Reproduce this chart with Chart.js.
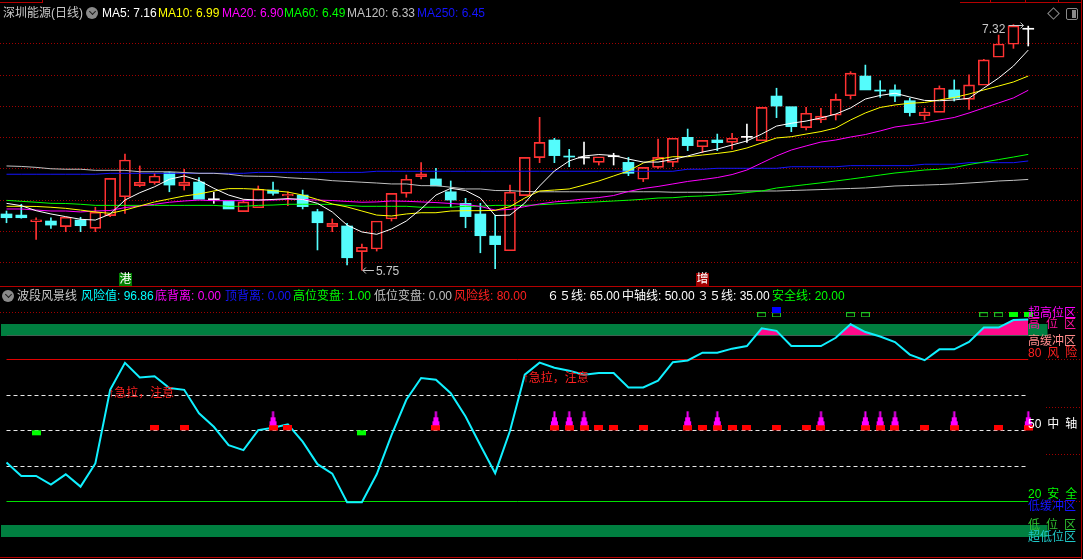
<!DOCTYPE html>
<html lang="zh">
<head>
<meta charset="utf-8">
<title>深圳能源(日线)</title>
<script src="https://cdn.jsdelivr.net/npm/chart.js@4/dist/chart.umd.min.js"></script>
<style>
  html, body { margin: 0; padding: 0; background: #000; }
  body { position: relative; width: 1083px; height: 559px; overflow: hidden; font: 12px "Liberation Sans", "Noto Sans CJK SC", sans-serif; }
  .pane { position: absolute; left: 0; width: 1083px; }
  #topPane { top: 0; height: 286px; }
  #botPane { top: 300px; height: 259px; }
  .t { position: absolute; white-space: nowrap; line-height: 14px; }
  .rule { position: absolute; background: #b40000; }
  .knob { position: absolute; width: 12px; height: 12px; border-radius: 50%; background: #8a8a8a; }
  .knob::after { content: ""; position: absolute; left: 3.5px; top: 2px; width: 4px; height: 4px; border-right: 1.5px solid #1c1c1c; border-bottom: 1.5px solid #1c1c1c; transform: rotate(45deg); }
  .diamond { position: absolute; left: 1049px; top: 9px; width: 7px; height: 7px; border: 1px solid #8a8a8a; transform: rotate(45deg); }
  .panel-ico { position: absolute; left: 1066px; top: 8px; width: 10px; height: 10px; border: 1px solid #8a8a8a; border-radius: 2px; }
  .panel-ico::after { content: ""; position: absolute; right: 1px; top: 1px; width: 4px; height: 8px; background: #8a8a8a; }
</style>
</head>
<body>
<div class="pane" id="topPane"><canvas id="kChart"></canvas></div>
<div class="pane" id="botPane"><canvas id="riskChart"></canvas></div>

<div class="rule" style="left:0;top:2px;width:42px;height:1px"></div>
<div class="rule" style="left:42px;top:0;width:1px;height:3px"></div>
<div class="rule" style="left:960px;top:2px;width:122px;height:1px"></div>
<div class="rule" style="left:990px;top:0;width:1px;height:3px"></div>
<div class="rule" style="left:1025px;top:0;width:1px;height:3px"></div>
<div class="rule" style="left:1058px;top:0;width:1px;height:3px"></div>
<div class="rule" style="left:0;top:286px;width:1082px;height:1px"></div>
<div class="rule" style="left:1081px;top:0;width:1px;height:559px"></div>
<div class="rule" style="left:0;top:557px;width:1082px;height:1px"></div>
<div class="diamond"></div>
<div class="panel-ico"></div>

<span class="t" style="left:3px;top:6px;color:#c8c8c8">深圳能源(日线)</span>
<div class="knob" style="left:86px;top:7px"></div>
<span class="t" style="left:102px;top:6px;color:#ffffff">MA5: 7.16</span>
<span class="t" style="left:158px;top:6px;color:#ffff00">MA10: 6.99</span>
<span class="t" style="left:222px;top:6px;color:#ff00ff">MA20: 6.90</span>
<span class="t" style="left:284px;top:6px;color:#00ff00">MA60: 6.49</span>
<span class="t" style="left:347px;top:6px;color:#c0c0c0">MA120: 6.33</span>
<span class="t" style="left:417px;top:6px;color:#1414ff">MA250: 6.45</span>

<div class="knob" style="left:2px;top:290px"></div>
<span class="t" style="left:17px;top:289px;color:#c8c8c8">波段风景线</span>
<span class="t" style="left:81px;top:289px;color:#00ffff">风险值: 96.86</span>
<span class="t" style="left:155px;top:289px;color:#ff00ff">底背离: 0.00</span>
<span class="t" style="left:225px;top:289px;color:#1414ff">顶背离: 0.00</span>
<span class="t" style="left:293px;top:289px;color:#00ff00">高位变盘: 1.00</span>
<span class="t" style="left:374px;top:289px;color:#c0c0c0">低位变盘: 0.00</span>
<span class="t" style="left:454px;top:289px;color:#ff2020">风险线: 80.00</span>
<span class="t" style="left:547px;top:289px;color:#ffffff">６５线: 65.00</span>
<span class="t" style="left:622px;top:289px;color:#ffffff">中轴线: 50.00</span>
<span class="t" style="left:697px;top:289px;color:#ffffff">３５线: 35.00</span>
<span class="t" style="left:772px;top:289px;color:#00ff00">安全线: 20.00</span>

<span class="t" style="left:1028px;top:306px;color:#ff00ff">超高位区</span>
<span class="t" style="left:1028px;top:317px;color:#ff10a0">高&ensp;位&ensp;区</span>
<span class="t" style="left:1028px;top:334px;color:#ff8c8c">高缓冲区</span>
<span class="t" style="left:1028px;top:346px;color:#ff2020">80&ensp;风&ensp;险</span>
<span class="t" style="left:1028px;top:417px;color:#ffffff">50&ensp;中&ensp;轴</span>
<span class="t" style="left:1028px;top:487px;color:#00ff00">20&ensp;安&ensp;全</span>
<span class="t" style="left:1028px;top:499px;color:#1414ff">低缓冲区</span>
<span class="t" style="left:1028px;top:518px;color:#30c030">低&ensp;位&ensp;区</span>
<span class="t" style="left:1028px;top:530px;color:#20c8c8">超低位区</span>

<script>
// daily candles, index 0..69
const OPEN = [6.109, 6.102, 6.060, 6.064, 6.028, 6.070, 6.017, 6.098, 6.219, 6.290,
  6.309, 6.373, 6.290, 6.313, 6.200, 6.192, 6.124, 6.149, 6.262, 6.224,
  6.230, 6.124, 6.028, 6.032, 5.868, 5.885, 6.077, 6.241, 6.347, 6.333,
  6.251, 6.177, 6.109, 5.968, 5.874, 6.226, 6.469, 6.582, 6.477, 6.467,
  6.439, 6.475, 6.439, 6.331, 6.407, 6.439, 6.599, 6.539, 6.582, 6.567,
  6.599, 6.577, 6.863, 6.795, 6.661, 6.710, 6.740, 6.865, 6.991, 6.899,
  6.902, 6.833, 6.737, 6.759, 6.902, 6.842, 6.932, 7.111, 7.194, 7.290];
const HIGH = [6.128, 6.171, 6.085, 6.085, 6.088, 6.088, 6.152, 6.337, 6.492, 6.416,
  6.369, 6.379, 6.395, 6.341, 6.248, 6.192, 6.200, 6.288, 6.313, 6.251,
  6.262, 6.139, 6.077, 6.049, 5.917, 6.064, 6.241, 6.358, 6.437, 6.401,
  6.320, 6.209, 6.177, 6.102, 6.294, 6.471, 6.727, 6.593, 6.522, 6.569,
  6.475, 6.497, 6.471, 6.407, 6.588, 6.593, 6.652, 6.580, 6.620, 6.625,
  6.684, 6.791, 6.913, 6.795, 6.791, 6.785, 6.876, 7.019, 7.061, 6.961,
  6.934, 6.849, 6.785, 6.928, 6.966, 6.998, 7.098, 7.253, 7.320, 7.310];
const LOW = [6.053, 6.082, 5.947, 6.017, 5.996, 5.996, 5.996, 6.092, 6.113, 6.283,
  6.299, 6.251, 6.262, 6.203, 6.177, 6.141, 6.124, 6.149, 6.230, 6.162,
  6.141, 5.879, 5.996, 5.783, 5.750, 5.872, 6.064, 6.216, 6.333, 6.288,
  6.156, 6.021, 5.861, 5.760, 5.874, 6.226, 6.437, 6.437, 6.411, 6.427,
  6.422, 6.422, 6.354, 6.316, 6.401, 6.411, 6.514, 6.501, 6.514, 6.524,
  6.567, 6.577, 6.725, 6.635, 6.646, 6.693, 6.710, 6.844, 6.902, 6.855,
  6.827, 6.735, 6.710, 6.759, 6.831, 6.778, 6.932, 7.111, 7.168, 7.183];
const CLOSE = [6.085, 6.085, 6.072, 6.038, 6.088, 6.034, 6.120, 6.337, 6.454, 6.312,
  6.352, 6.294, 6.313, 6.203, 6.200, 6.141, 6.186, 6.267, 6.241, 6.235,
  6.156, 6.053, 6.049, 5.829, 5.896, 6.064, 6.241, 6.331, 6.365, 6.288,
  6.198, 6.092, 5.970, 5.913, 6.248, 6.471, 6.567, 6.482, 6.473, 6.467,
  6.475, 6.475, 6.369, 6.407, 6.471, 6.593, 6.546, 6.580, 6.565, 6.593,
  6.599, 6.791, 6.799, 6.667, 6.753, 6.735, 6.842, 7.010, 6.902, 6.895,
  6.863, 6.757, 6.761, 6.913, 6.849, 6.934, 7.094, 7.196, 7.311, 7.290];

const MA5 = [6.177, 6.162, 6.130, 6.109, 6.092, 6.075, 6.070, 6.109, 6.198, 6.245,
  6.283, 6.331, 6.352, 6.323, 6.273, 6.230, 6.203, 6.198, 6.202, 6.207,
  6.202, 6.177, 6.122, 6.038, 5.994, 5.979, 6.013, 6.064, 6.141, 6.230,
  6.273, 6.259, 6.211, 6.099, 6.102, 6.179, 6.288, 6.384, 6.448, 6.480,
  6.489, 6.483, 6.460, 6.441, 6.441, 6.457, 6.480, 6.505, 6.524, 6.550,
  6.576, 6.620, 6.671, 6.689, 6.703, 6.723, 6.748, 6.787, 6.844, 6.867,
  6.881, 6.857, 6.835, 6.833, 6.838, 6.849, 6.914, 6.978, 7.055, 7.157];
const MA10 = [6.158, 6.158, 6.157, 6.152, 6.145, 6.134, 6.122, 6.113, 6.134, 6.160,
  6.186, 6.205, 6.224, 6.237, 6.256, 6.271, 6.271, 6.267, 6.258, 6.249,
  6.230, 6.202, 6.173, 6.154, 6.128, 6.102, 6.096, 6.109, 6.117, 6.117,
  6.128, 6.130, 6.130, 6.132, 6.156, 6.211, 6.256, 6.262, 6.269, 6.294,
  6.320, 6.352, 6.384, 6.435, 6.459, 6.475, 6.475, 6.486, 6.496, 6.508,
  6.531, 6.563, 6.595, 6.603, 6.620, 6.636, 6.659, 6.710, 6.755, 6.790,
  6.806, 6.817, 6.822, 6.838, 6.854, 6.876, 6.902, 6.927, 6.953, 6.991];
const MA20 = [6.141, 6.141, 6.134, 6.128, 6.128, 6.122, 6.128, 6.131, 6.150, 6.160,
  6.171, 6.184, 6.192, 6.198, 6.194, 6.194, 6.194, 6.198, 6.198, 6.203,
  6.202, 6.198, 6.195, 6.189, 6.184, 6.186, 6.192, 6.190, 6.186, 6.182,
  6.176, 6.170, 6.157, 6.134, 6.138, 6.156, 6.173, 6.186, 6.195, 6.205,
  6.214, 6.227, 6.253, 6.272, 6.285, 6.301, 6.317, 6.329, 6.342, 6.361,
  6.390, 6.435, 6.480, 6.518, 6.544, 6.569, 6.582, 6.601, 6.617, 6.640,
  6.665, 6.678, 6.691, 6.710, 6.726, 6.755, 6.787, 6.819, 6.851, 6.900];
const MA60 = [6.196, 6.190, 6.184, 6.177, 6.176, 6.171, 6.164, 6.164, 6.164, 6.164,
  6.164, 6.164, 6.164, 6.164, 6.164, 6.158, 6.158, 6.164, 6.166, 6.171,
  6.171, 6.171, 6.170, 6.164, 6.158, 6.158, 6.158, 6.158, 6.152, 6.152,
  6.152, 6.158, 6.158, 6.164, 6.164, 6.164, 6.168, 6.173, 6.178, 6.182,
  6.187, 6.192, 6.197, 6.203, 6.211, 6.213, 6.221, 6.224, 6.230, 6.235,
  6.246, 6.256, 6.275, 6.286, 6.297, 6.308, 6.320, 6.332, 6.345, 6.358,
  6.371, 6.380, 6.390, 6.395, 6.406, 6.425, 6.441, 6.457, 6.473, 6.490];
const MA120 = [6.416, 6.413, 6.407, 6.398, 6.395, 6.395, 6.388, 6.388, 6.388, 6.379,
  6.379, 6.379, 6.374, 6.369, 6.369, 6.363, 6.352, 6.350, 6.349, 6.341,
  6.336, 6.331, 6.322, 6.317, 6.312, 6.307, 6.301, 6.301, 6.290, 6.290,
  6.280, 6.269, 6.269, 6.259, 6.258, 6.253, 6.251, 6.251, 6.251, 6.251,
  6.251, 6.251, 6.251, 6.251, 6.251, 6.248, 6.248, 6.248, 6.248, 6.256,
  6.256, 6.256, 6.256, 6.259, 6.262, 6.265, 6.269, 6.272, 6.275, 6.281,
  6.288, 6.291, 6.294, 6.297, 6.301, 6.307, 6.313, 6.320, 6.324, 6.330];
const MA250 = [6.363, 6.363, 6.363, 6.363, 6.363, 6.363, 6.363, 6.369, 6.369, 6.369,
  6.369, 6.369, 6.369, 6.369, 6.369, 6.369, 6.369, 6.375, 6.375, 6.375,
  6.375, 6.375, 6.375, 6.375, 6.375, 6.382, 6.382, 6.382, 6.382, 6.382,
  6.382, 6.382, 6.382, 6.382, 6.382, 6.382, 6.382, 6.382, 6.382, 6.382,
  6.382, 6.382, 6.382, 6.382, 6.382, 6.382, 6.395, 6.395, 6.401, 6.401,
  6.401, 6.401, 6.401, 6.411, 6.411, 6.411, 6.411, 6.418, 6.418, 6.418,
  6.418, 6.418, 6.427, 6.427, 6.427, 6.437, 6.437, 6.437, 6.437, 6.448];

// 波段风景线 risk value
const RISK = [36.4, 30.7, 30.7, 27.1, 31.4, 26.2, 36.0, 67.1, 78.5, 72.3,
  72.8, 67.9, 67.1, 57.2, 51.5, 43.7, 41.6, 50.1, 51.1, 52.5,
  45.2, 35.7, 31.7, 19.6, 19.6, 31.4, 48.0, 62.9, 72.1, 71.4,
  65.7, 55.8, 43.7, 31.9, 49.7, 73.5, 78.6, 76.4, 75.2, 73.5,
  74.2, 74.2, 68.1, 68.1, 71.0, 78.8, 79.5, 82.8, 82.8, 84.5,
  85.6, 93.1, 92.0, 85.6, 85.6, 85.6, 89.1, 94.8, 91.5, 89.6,
  87.3, 82.0, 79.6, 84.2, 84.2, 87.3, 93.4, 93.4, 96.6, 96.86];

const PRICE_GRID = [5.8, 6.0, 6.2, 6.4, 6.6, 6.8, 7.0, 7.2];
const DASH_LEVELS = [65, 50, 35];
const RISK_LEVEL = 80;
const SAFE_LEVEL = 20;
const MID_LEVEL = 50;
const HIGH_BAND = [90, 95];
const LOW_BAND = [5, 10];
const AXIS_TICKS = [80, 60, 40, 20];
const RED_MARK_IDX = [10, 12, 18, 19, 29, 37, 38, 39, 40, 41, 43, 46, 47, 48, 49, 50, 52, 54, 55, 58, 59, 60, 62, 64, 67, 69];
const SPIKE_IDX = [18, 29, 37, 38, 39, 46, 48, 55, 58, 59, 60, 64, 69];
const GREEN_MARK_IDX = [2, 24];
const TOP_OPEN_IDX = [51, 52, 57, 58, 66, 67];
const TOP_FILLED_IDX = [68, 69];
const TOP_BLUE_IDX = [52];
const ALERT_IDX = [7, 35];
const TAGS = [{ idx: 8, text: "港", bg: "#008000" }, { idx: 47, text: "增", bg: "#a00000" }];

const UP = "#ff3232", DOWN = "#54fcfc", FLAT = "#ffffff";
const FONT = '12px "Liberation Sans", "DejaVu Sans", "Noto Sans CJK SC", sans-serif';
const xAxis = { type: "linear", min: -0.439, max: 72.697, display: false, offset: false };

function candleColor(i) {
  if (CLOSE[i] > OPEN[i]) return UP;
  if (CLOSE[i] < OPEN[i]) return DOWN;
  return FLAT;
}

const bodies = OPEN.map((o, i) => ({ x: i, y: [o, CLOSE[i]] }));
const upperWicks = [], lowerWicks = [];
OPEN.forEach((o, i) => {
  const top = Math.max(o, CLOSE[i]), bot = Math.min(o, CLOSE[i]);
  if (HIGH[i] > top) upperWicks.push({ x: i, y: [top, HIGH[i]] });
  if (LOW[i] < bot) lowerWicks.push({ x: i, y: [LOW[i], bot] });
});

const pts = (arr) => arr.map((v, i) => ({ x: i, y: v }));
const maLine = (arr, color) => ({ type: "line", order: 0, data: pts(arr), borderColor: color, borderWidth: 1, pointRadius: 0, tension: 0 });
const wickSet = (data) => ({
  type: "bar", order: 2, grouped: false, barThickness: 1, data,
  backgroundColor: (c) => candleColor(c.raw.x), borderWidth: 0,
});

const kDecor = {
  id: "kDecor",
  beforeDatasetsDraw(chart) {
    const { ctx, chartArea: a, scales: { y } } = chart;
    ctx.save();
    ctx.strokeStyle = "#a00000";
    ctx.lineWidth = 1;
    ctx.setLineDash([1, 2]);
    PRICE_GRID.forEach((p) => {
      const yy = Math.round(y.getPixelForValue(p)) + 0.5;
      ctx.beginPath(); ctx.moveTo(a.left, yy); ctx.lineTo(a.right - 3, yy); ctx.stroke();
    });
    ctx.restore();
  },
  afterDatasetsDraw(chart) {
    const { ctx, chartArea: a, scales: { x, y } } = chart;
    ctx.save();
    ctx.font = FONT;
    ctx.textBaseline = "middle";
    TAGS.forEach((t) => {
      const cx = x.getPixelForValue(t.idx);
      ctx.fillStyle = t.bg;
      ctx.fillRect(Math.round(cx) - 6, a.bottom - 13, 13, 13);
      ctx.fillStyle = "#ffffff";
      ctx.textAlign = "center";
      ctx.fillText(t.text, Math.round(cx) + 0.5, a.bottom - 6);
    });
    // extreme price labels
    const lo = Math.min(...LOW), iLo = LOW.indexOf(lo);
    const hi = Math.max(...HIGH), iHi = HIGH.indexOf(hi);
    ctx.strokeStyle = ctx.fillStyle = "#c8c8c8";
    ctx.lineWidth = 1;
    const lx = x.getPixelForValue(iLo), ly = Math.round(y.getPixelForValue(lo)) + 0.5;
    ctx.beginPath();
    ctx.moveTo(lx + 1, ly); ctx.lineTo(lx + 12, ly);
    ctx.moveTo(lx + 4, ly - 3); ctx.lineTo(lx + 1, ly); ctx.lineTo(lx + 4, ly + 3);
    ctx.stroke();
    ctx.textAlign = "left";
    ctx.fillText(lo.toFixed(2), lx + 14, ly + 1);
    const hx = x.getPixelForValue(iHi), hy = Math.round(y.getPixelForValue(hi)) + 0.5;
    ctx.textAlign = "right";
    ctx.fillText(hi.toFixed(2), hx - 8, hy + 4);
    ctx.beginPath();
    ctx.moveTo(hx - 5, hy); ctx.lineTo(hx + 10, hy);
    ctx.moveTo(hx + 7, hy - 3); ctx.lineTo(hx + 10, hy); ctx.lineTo(hx + 7, hy + 3);
    ctx.stroke();
    ctx.restore();
  },
};

new Chart(document.getElementById("kChart"), {
  type: "bar",
  data: {
    datasets: [
      maLine(MA5, "#ffffff"),
      maLine(MA10, "#ffff00"),
      maLine(MA20, "#ff00ff"),
      maLine(MA60, "#00ff00"),
      maLine(MA120, "#c0c0c0"),
      maLine(MA250, "#1414ff"),
      {
        type: "bar", order: 1, grouped: false, barThickness: 11, minBarLength: 1, data: bodies,
        backgroundColor: (c) => (CLOSE[c.raw.x] > OPEN[c.raw.x] ? "rgba(0,0,0,0)" : candleColor(c.raw.x)),
        borderColor: (c) => candleColor(c.raw.x),
        borderWidth: (c) => (CLOSE[c.raw.x] > OPEN[c.raw.x] ? 1 : 0),
        borderSkipped: false,
      },
      wickSet(upperWicks),
      wickSet(lowerWicks),
    ],
  },
  options: {
    responsive: true, maintainAspectRatio: false, animation: false,
    layout: { padding: 0, autoPadding: false },
    plugins: { legend: { display: false }, tooltip: { enabled: false } },
    scales: { x: xAxis, y: { type: "linear", min: 5.6485, max: 7.4771, display: false } },
  },
  plugins: [kDecor],
});

// small marker glyphs used as point styles
function glyph(w, h, draw) {
  const c = document.createElement("canvas");
  c.width = w; c.height = h;
  draw(c.getContext("2d"));
  return c;
}
const redGlyph = glyph(9, 10, (g) => { g.fillStyle = "#ff0000"; g.fillRect(0, 0, 9, 5); });
const spikeGlyph = glyph(9, 40, (g) => {
  g.fillStyle = "#ff0000"; g.fillRect(0, 15, 9, 5);
  g.fillStyle = "#ff00ff";
  g.fillRect(1, 11, 7, 4);
  g.fillRect(2, 7, 5, 4);
  g.fillRect(3.5, 1, 2, 6);
});
const greenGlyph = glyph(9, 12, (g) => { g.fillStyle = "#00ff00"; g.fillRect(0, 6, 9, 5); });
const openGlyph = glyph(9, 5, (g) => { g.strokeStyle = "#20c020"; g.lineWidth = 1; g.strokeRect(0.5, 0.5, 8, 4); });
const filledGlyph = glyph(9, 5, (g) => { g.fillStyle = "#00ff00"; g.fillRect(0, 0, 9, 5); });
const blueGlyph = glyph(9, 6, (g) => { g.fillStyle = "#0000ff"; g.fillRect(0, 0, 9, 6); });

const marks = (idx, level, style) => ({
  type: "line", order: 0, showLine: false, pointStyle: style, pointRadius: 3,
  data: idx.map((i) => ({ x: i, y: level })),
});

const riskDecor = {
  id: "riskDecor",
  beforeDatasetsDraw(chart) {
    const { ctx, chartArea: a, scales: { x, y } } = chart;
    const x0 = x.getPixelForValue(0), x1 = x.getPixelForValue(RISK.length - 1);
    const bandEnd = x.getPixelForValue(70.3);
    ctx.save();
    ctx.fillStyle = "#007f40";
    [HIGH_BAND, LOW_BAND].forEach(([lo, hi]) => {
      const yt = Math.round(y.getPixelForValue(hi)), yb = Math.round(y.getPixelForValue(lo));
      ctx.fillRect(a.left + 1, yt, bandEnd - a.left - 1, yb - yt);
    });
    ctx.strokeStyle = "#a00000";
    ctx.lineWidth = 1;
    ctx.setLineDash([1, 2]);
    const y100 = Math.round(y.getPixelForValue(100)) + 0.5;
    ctx.beginPath(); ctx.moveTo(a.left, y100); ctx.lineTo(a.right - 3, y100); ctx.stroke();
    AXIS_TICKS.forEach((v) => {
      const yy = Math.round(y.getPixelForValue(v)) + 0.5;
      ctx.beginPath(); ctx.moveTo(x.getPixelForValue(70.2), yy); ctx.lineTo(a.right - 3, yy); ctx.stroke();
    });
    ctx.setLineDash([4, 3]);
    ctx.strokeStyle = "#e8e8e8";
    DASH_LEVELS.forEach((v) => {
      const yy = Math.round(y.getPixelForValue(v)) + 0.5;
      ctx.beginPath(); ctx.moveTo(x0, yy); ctx.lineTo(x1, yy); ctx.stroke();
    });
    ctx.setLineDash([]);
    [[RISK_LEVEL, "#e00000"], [SAFE_LEVEL, "#00e000"]].forEach(([v, c]) => {
      const yy = Math.round(y.getPixelForValue(v)) + 0.5;
      ctx.strokeStyle = c;
      ctx.beginPath(); ctx.moveTo(x0, yy); ctx.lineTo(x1, yy); ctx.stroke();
    });
    ctx.restore();
  },
  afterDatasetsDraw(chart) {
    const { ctx, scales: { x, y } } = chart;
    ctx.save();
    ctx.font = FONT;
    ctx.fillStyle = "#ff2020";
    ctx.textBaseline = "middle";
    ctx.textAlign = "left";
    ALERT_IDX.forEach((i) => ctx.fillText("↑急拉，注意", x.getPixelForValue(i) - 2, y.getPixelForValue(RISK[i]) + 4));
    ctx.restore();
  },
};

new Chart(document.getElementById("riskChart"), {
  type: "line",
  data: {
    datasets: [
      marks(TOP_BLUE_IDX, 100.9, blueGlyph),
      marks(TOP_OPEN_IDX, 98.8, openGlyph),
      marks(TOP_FILLED_IDX, 98.8, filledGlyph),
      marks(SPIKE_IDX, MID_LEVEL, spikeGlyph),
      marks(RED_MARK_IDX, MID_LEVEL, redGlyph),
      marks(GREEN_MARK_IDX, MID_LEVEL, greenGlyph),
      {
        type: "line", order: 1, data: pts(RISK), borderColor: "#10f0ff", borderWidth: 2,
        pointRadius: 0, tension: 0,
        fill: { target: { value: HIGH_BAND[0] }, above: "#ff0a8c", below: "rgba(0,0,0,0)" },
      },
    ],
  },
  options: {
    responsive: true, maintainAspectRatio: false, animation: false,
    layout: { padding: 0, autoPadding: false },
    plugins: { legend: { display: false }, tooltip: { enabled: false } },
    scales: { x: xAxis, y: { type: "linear", min: -4.37, max: 105.05, display: false } },
  },
  plugins: [riskDecor],
});
</script>
</body>
</html>
